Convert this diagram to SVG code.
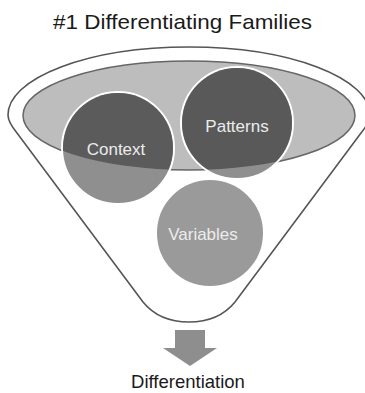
<svg xmlns="http://www.w3.org/2000/svg" width="365" height="393" viewBox="0 0 365 393">
<style>
text{font-family:"Liberation Sans",Arial,sans-serif}
.title{font-size:21px;fill:#1a1a1a}
.lbl{font-size:17px;fill:#ececec;text-anchor:middle}
.ring{stroke:#ffffff;stroke-width:2}
</style>
<defs>
<clipPath id="ell"><ellipse cx="189" cy="115.5" rx="166" ry="54.5"/></clipPath>
</defs>
<rect width="365" height="393" fill="#ffffff"/>
<text class="title" x="53" y="29" textLength="259" lengthAdjust="spacingAndGlyphs">#1 Differentiating Families</text>
<g id="funnel">
<path d="M143,302 L17,133 Q8,122 8,115 A181,68 0 0 1 370,115 Q370,122 361,133 L235,302 C222,318 206,322 189,322 C172,322 156,318 143,302 Z" fill="#ffffff" stroke="#555555" stroke-width="1.6"/>
<ellipse cx="189" cy="115.5" rx="166" ry="54.5" fill="#bdbdbd" stroke="#666666" stroke-width="1.5"/>
</g>
<g id="context">
<circle class="ring" cx="118" cy="148" r="56" fill="#8f8f8f"/>
<circle cx="118" cy="148" r="55" fill="#5b5b5b" clip-path="url(#ell)"/>
<text class="lbl" x="116" y="155">Context</text>
</g>
<g id="patterns">
<circle class="ring" cx="237" cy="123" r="56" fill="#8f8f8f"/>
<circle cx="237" cy="123" r="55" fill="#595959" clip-path="url(#ell)"/>
<text class="lbl" x="237" y="132">Patterns</text>
</g>
<g id="variables">
<circle class="ring" cx="210" cy="233" r="54" fill="#9a9a9a"/>
<text class="lbl" x="203" y="240">Variables</text>
</g>
<g id="connectors">
<path d="M175,330 H205 V348 H217 L190,366 L163,348 H175 Z" fill="#8e8e8e"/>
</g>
<g id="result">
<text x="188" y="388" font-size="18.5" fill="#1a1a1a" text-anchor="middle">Differentiation</text>
</g>
</svg>
